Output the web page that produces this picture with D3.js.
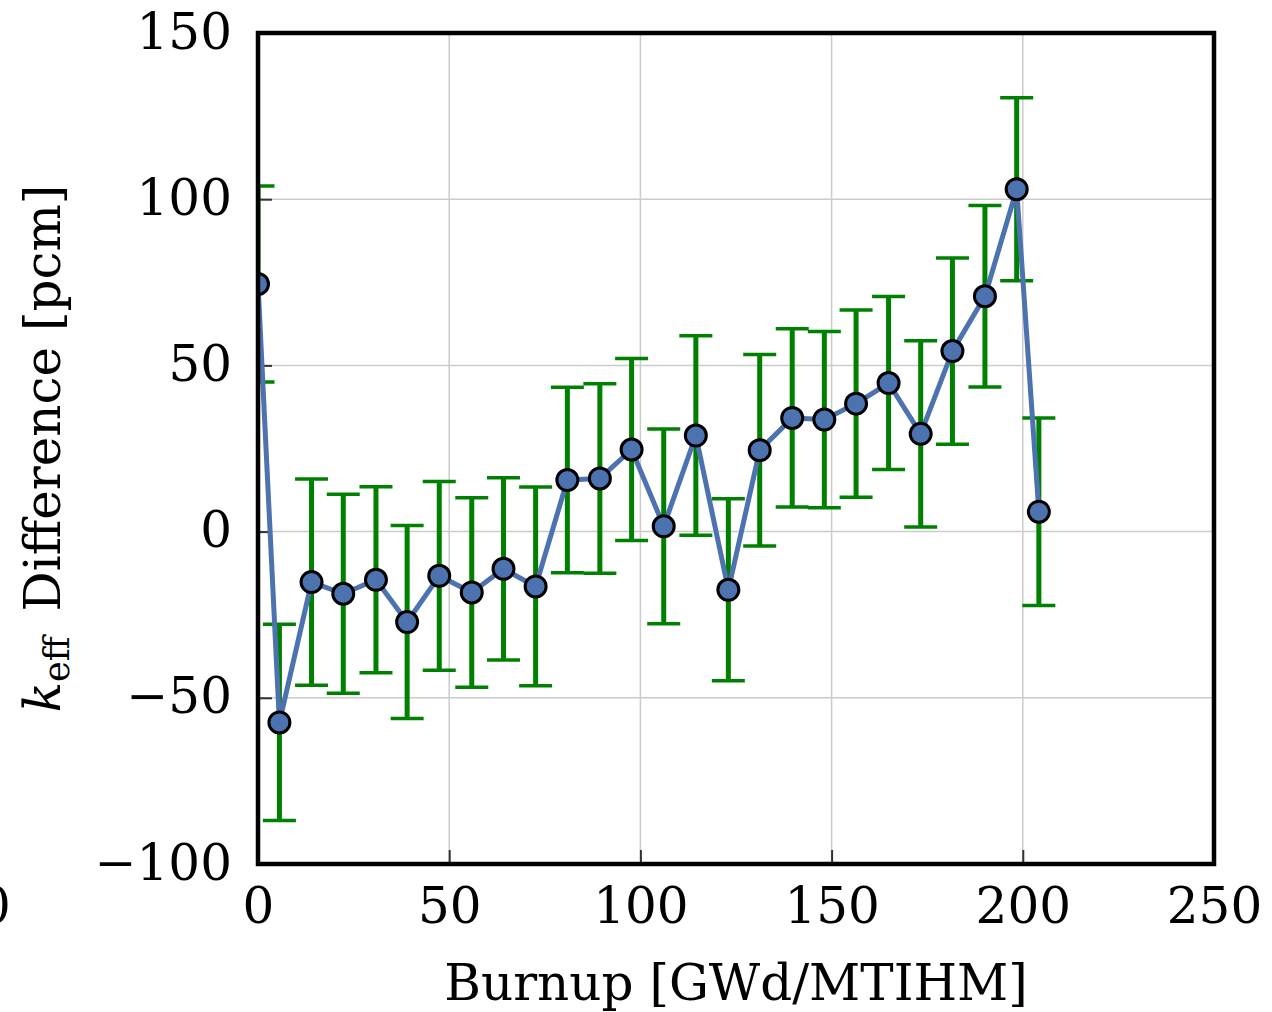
<!DOCTYPE html>
<html>
<head>
<meta charset="utf-8">
<script src="https://cdn.jsdelivr.net/npm/d3@7"></script>
<style>
  html, body { margin: 0; padding: 0; background: #fff; }
  svg { display: block; }
  text { font-family: "DejaVu Serif", serif; fill: #000; }
</style>
</head>
<body>
<svg id="chart" width="1272" height="1012"></svg>
<script>
// ---- data ----
const burnup = [0, 5.6, 14.0, 22.3, 30.85, 39.0, 47.4, 55.9, 64.2, 72.6, 80.9, 89.4, 97.7,
                106.1, 114.5, 123.0, 131.2, 139.7, 148.1, 156.4, 164.9, 173.3, 181.6, 190.1, 198.4, 204.2];
const keffDiff = [74.5, -57.4, -15.2, -18.7, -14.5, -27.2, -13.3, -18.3, -11.2, -16.5, 15.5, 16.0, 24.7,
                  1.6, 28.9, -17.5, 24.5, 34.2, 33.7, 38.5, 44.7, 29.4, 54.3, 70.8, 103.0, 6.0];
const keffErr = [29.5, 29.5, 31.0, 29.9, 28.0, 29.0, 28.4, 28.5, 27.4, 29.9, 27.9, 28.5, 27.4,
                 29.3, 30.0, 27.4, 28.8, 26.8, 26.5, 28.2, 26.0, 28.0, 28.0, 27.3, 27.5, 28.2];
const xTicks = [0, 50, 100, 150, 200, 250];
const yTicks = [-100, -50, 0, 50, 100, 150];
const xLabel = "Burnup [GWd/MTIHM]";
const yLabelMain = "Difference [pcm]";

// ---- layout ----
const svg = d3.select("#chart");
const L = 258, R = 1214, T = 33, B = 864;
const x = d3.scaleLinear().domain([0, 250]).range([L, R]);
const y = d3.scaleLinear().domain([-100, 150]).range([B, T]);
const fmt = d => d < 0 ? "\u2212" + Math.abs(d) : String(d);

const data = burnup.map((b, i) => ({x: b, y: keffDiff[i], e: keffErr[i]}));

svg.append("defs").append("clipPath").attr("id", "plotclip")
  .append("rect").attr("x", L).attr("y", T).attr("width", R - L).attr("height", B - T);

// grid
const grid = svg.append("g");
grid.selectAll(".gx").data(xTicks).enter().append("line")
  .attr("x1", d => x(d)).attr("x2", d => x(d)).attr("y1", T).attr("y2", B)
  .attr("stroke", "#cbcbcb").attr("stroke-width", 1.5);
grid.selectAll(".gy").data(yTicks).enter().append("line")
  .attr("x1", L).attr("x2", R).attr("y1", d => y(d)).attr("y2", d => y(d))
  .attr("stroke", "#cbcbcb").attr("stroke-width", 1.5);

// axes (inward ticks, labels)
const xAxis = d3.axisBottom(x).tickValues(xTicks).tickSize(-14).tickPadding(0).tickFormat(fmt);
const yAxis = d3.axisLeft(y).tickValues(yTicks).tickSize(-14).tickPadding(0).tickFormat(fmt);

const gx = svg.append("g").attr("transform", `translate(0,${B})`).call(xAxis);
gx.select(".domain").remove();
gx.selectAll(".tick line").attr("stroke", "#333").attr("stroke-width", 2);
gx.selectAll(".tick text").attr("y", 59).attr("dy", 0)
  .style("font-family", "DejaVu Serif").style("font-size", "50px").attr("fill", "#000");

const gy = svg.append("g").attr("transform", `translate(${L},0)`).call(yAxis);
gy.select(".domain").remove();
gy.selectAll(".tick line").attr("stroke", "#333").attr("stroke-width", 2);
gy.selectAll(".tick text").attr("x", -26).attr("dy", 15)
  .style("font-family", "DejaVu Serif").style("font-size", "50px").attr("fill", "#000");

// plot content (clipped)
const plot = svg.append("g").attr("clip-path", "url(#plotclip)");

const eb = plot.append("g").attr("stroke", "#008000");
eb.selectAll(".ev").data(data).enter().append("line")
  .attr("x1", d => x(d.x)).attr("x2", d => x(d.x))
  .attr("y1", d => y(d.y + d.e)).attr("y2", d => y(d.y - d.e))
  .attr("stroke-width", 5);
eb.selectAll(".ct").data(data).enter().append("line")
  .attr("x1", d => x(d.x) - 16.5).attr("x2", d => x(d.x) + 16.5)
  .attr("y1", d => y(d.y + d.e)).attr("y2", d => y(d.y + d.e))
  .attr("stroke-width", 3.5);
eb.selectAll(".cb").data(data).enter().append("line")
  .attr("x1", d => x(d.x) - 16.5).attr("x2", d => x(d.x) + 16.5)
  .attr("y1", d => y(d.y - d.e)).attr("y2", d => y(d.y - d.e))
  .attr("stroke-width", 3.5);

const line = d3.line().x(d => x(d.x)).y(d => y(d.y));
plot.append("path").datum(data).attr("d", line)
  .attr("fill", "none").attr("stroke", "#4C72B0").attr("stroke-width", 5)
  .attr("stroke-linejoin", "round");

plot.selectAll(".pt").data(data).enter().append("circle")
  .attr("cx", d => x(d.x)).attr("cy", d => y(d.y)).attr("r", 10.5)
  .attr("fill", "#4C72B0").attr("stroke", "#000").attr("stroke-width", 3);

// frame
svg.append("rect").attr("x", L).attr("y", T).attr("width", R - L).attr("height", B - T)
  .attr("fill", "none").attr("stroke", "#000").attr("stroke-width", 4.5);

// axis labels
svg.append("text").attr("x", (L + R) / 2).attr("y", 1000).attr("text-anchor", "middle")
  .style("font-size", "50px").text(xLabel);

const yl = svg.append("text")
  .attr("transform", `translate(60,${(T + B) / 2}) rotate(-90)`)
  .attr("text-anchor", "middle").style("font-size", "50px");
yl.append("tspan").style("font-style", "italic").text("k");
yl.append("tspan").attr("dy", 9).style("font-size", "35px").text("eff");
yl.append("tspan").attr("dy", -9).text("\u2002" + yLabelMain);

// stray cropped tick label from neighbouring panel at the far left
svg.append("text").attr("x", -5).attr("y", 923).attr("text-anchor", "middle")
  .style("font-size", "50px").text("0");
</script>
</body>
</html>
